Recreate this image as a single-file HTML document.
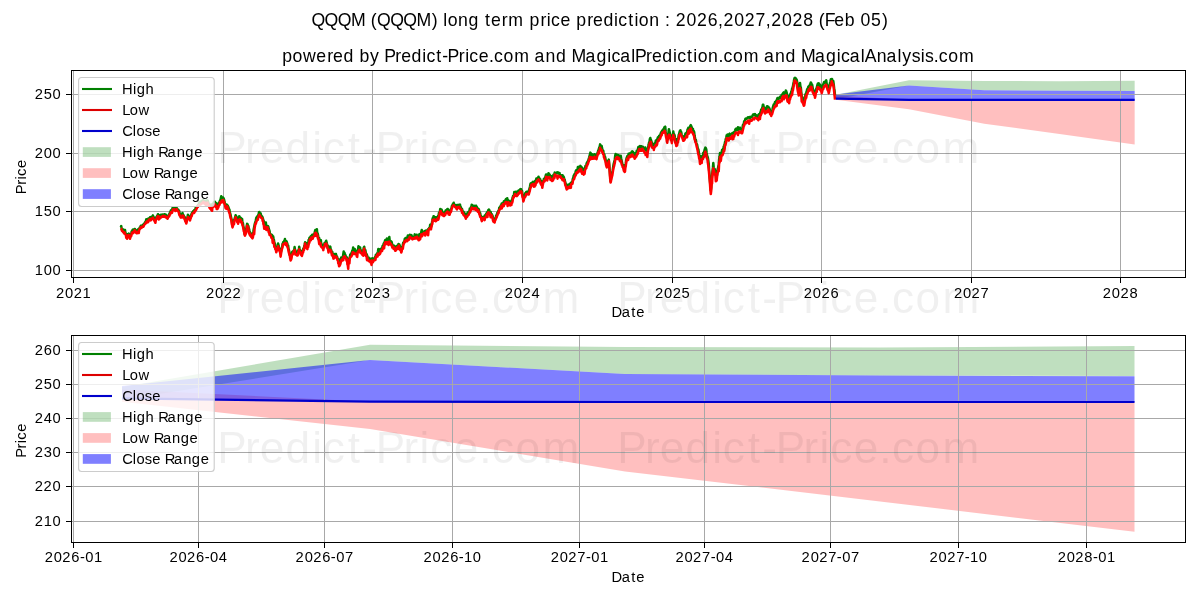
<!DOCTYPE html>
<html><head><meta charset="utf-8"><title>QQQM price prediction</title>
<style>html,body{margin:0;padding:0;background:#fff;width:1200px;height:600px;overflow:hidden}body{position:relative}</style>
</head><body>
<svg width="1200" height="600" viewBox="0 0 1200 600" style="position:absolute;left:0;top:0;will-change:transform">
<rect x="0" y="0" width="1200" height="600" fill="#fff"/>
<defs><clipPath id="ct"><rect x="72" y="71" width="1113" height="206"/></clipPath>
<clipPath id="cb"><rect x="72" y="336" width="1113" height="206"/></clipPath></defs>
<text x="311.50 324.61 337.73 350.99 365.71 370.70 377.03 390.15 403.27 416.53 431.83 437.71 443.23 447.70 458.11 468.54 478.37 484.91 490.93 501.73 508.30 523.01 529.51 540.41 546.82 551.05 560.50 570.32 576.28 587.19 593.12 603.40 614.06 618.30 628.27 634.39 638.85 649.27 659.09 665.08 669.99 675.80 686.62 697.01 707.83 718.07 723.52 734.34 744.72 755.51 765.79 771.23 782.05 792.44 803.26 813.08 818.64 824.64 834.20 844.69 854.51 860.47 871.01 882.05" y="25.80" font-family='"Liberation Sans", sans-serif' font-size="17.66" fill="#000">QQQM (QQQM) long term price prediction : 2026,2027,2028 (Feb 05)</text>
<text x="282.19 292.48 302.92 316.37 327.18 333.11 343.39 353.22 359.47 370.08 378.91 384.14 395.29 401.23 411.51 422.17 426.41 436.37 442.21 447.56 458.71 465.13 469.36 478.81 489.00 494.08 503.47 514.28 528.99 534.57 545.62 556.06 565.88 571.50 585.60 596.53 607.19 611.43 620.19 631.19 634.88 646.03 651.96 662.25 672.91 677.15 687.11 693.24 697.70 708.11 718.46 723.53 732.92 743.73 758.44 764.02 775.08 785.52 795.34 800.95 815.06 825.99 836.65 840.89 849.65 860.65 864.73 876.73 886.46 897.46 902.25 911.64 920.64 924.96 933.78 938.86 948.25 959.06" y="61.60" font-family='"Liberation Sans", sans-serif' font-size="17.66" fill="#000">powered by Predict-Price.com and MagicalPrediction.com and MagicalAnalysis.com</text>
<g clip-path="url(#ct)">
<polygon points="835.78,94.73 908.99,80.23 984.26,81.00 1059.53,81.17 1134.66,80.66 1134.66,90.95 1059.53,90.78 984.26,90.27 908.99,85.46 835.78,99.19" fill="rgba(0,128,0,0.25)"/>
<polygon points="835.78,95.59 908.99,99.78 984.26,99.88 1059.53,99.88 1134.66,99.88 1134.66,144.40 1059.53,134.04 984.26,123.74 908.99,109.15 835.78,99.78" fill="rgba(255,0,0,0.25)"/>
<polygon points="835.78,94.39 908.99,85.46 984.26,90.27 1059.53,90.78 1134.66,91.04 1134.66,99.88 1059.53,99.88 984.26,99.88 908.99,99.78 835.78,98.61" fill="rgba(0,0,255,0.5)"/>
</g>
<g shape-rendering="crispEdges">
<rect x="73" y="71" width="1" height="206" fill="#a8a8a8"/>
<rect x="223" y="71" width="1" height="206" fill="#a8a8a8"/>
<rect x="372" y="71" width="1" height="206" fill="#a8a8a8"/>
<rect x="522" y="71" width="1" height="206" fill="#a8a8a8"/>
<rect x="672" y="71" width="1" height="206" fill="#a8a8a8"/>
<rect x="821" y="71" width="1" height="206" fill="#a8a8a8"/>
<rect x="971" y="71" width="1" height="206" fill="#a8a8a8"/>
<rect x="1120" y="71" width="1" height="206" fill="#a8a8a8"/>
<rect x="72" y="270" width="1113" height="1" fill="#a8a8a8"/>
<rect x="72" y="211" width="1113" height="1" fill="#a8a8a8"/>
<rect x="72" y="153" width="1113" height="1" fill="#a8a8a8"/>
<rect x="72" y="94" width="1113" height="1" fill="#a8a8a8"/>
</g>
<g clip-path="url(#ct)">
<polyline points="120.80,227.18 121.22,226.05 121.63,228.68 122.05,229.34 122.47,229.42 122.88,230.45 123.30,229.42 123.72,230.56 124.15,231.09 124.58,231.72 125.00,229.96 125.42,232.94 125.84,233.32 126.26,234.30 126.68,234.04 127.10,235.40 127.51,234.35 127.92,235.26 128.34,234.45 128.75,233.56 129.17,235.01 129.58,236.09 130.00,237.88 130.43,235.06 130.85,234.00 131.27,232.81 131.70,231.37 132.11,231.51 132.52,230.01 132.94,229.50 133.35,230.74 133.76,230.35 134.18,230.86 134.59,228.92 135.00,229.13 135.43,230.50 135.85,230.05 136.27,231.52 136.70,232.38 137.11,230.97 137.52,230.82 137.94,229.64 138.35,230.36 138.76,228.99 139.18,229.39 139.59,227.67 140.00,227.55 140.41,227.38 140.82,225.65 141.24,226.43 141.65,225.71 142.06,225.61 142.48,225.40 142.89,225.08 143.30,225.26 143.73,223.89 144.15,223.75 144.57,223.62 145.00,222.27 145.43,222.26 145.85,221.22 146.27,219.28 146.70,220.53 147.11,220.46 147.52,220.03 147.94,220.41 148.35,218.60 148.76,219.16 149.18,218.88 149.59,218.58 150.00,217.36 150.41,218.05 150.83,217.11 151.24,217.19 151.66,217.05 152.07,217.22 152.49,215.98 152.90,215.44 153.32,216.75 153.74,217.10 154.16,218.54 154.58,218.98 155.00,219.93 155.42,219.39 155.83,218.62 156.25,217.23 156.67,216.95 157.08,215.99 157.50,215.45 157.92,214.28 158.33,215.59 158.75,216.04 159.17,215.14 159.58,215.52 160.00,216.28 160.41,216.20 160.82,214.87 161.24,216.19 161.65,215.17 162.06,214.49 162.48,214.67 162.89,214.64 163.30,214.63 163.72,214.99 164.13,214.28 164.55,214.23 164.97,215.87 165.38,215.73 165.80,214.65 166.23,215.51 166.65,216.32 167.07,217.67 167.50,217.95 167.92,216.87 168.33,215.91 168.75,215.04 169.17,214.16 169.58,213.75 170.00,212.26 170.41,212.34 170.82,210.61 171.24,210.79 171.65,210.02 172.06,210.27 172.48,208.13 172.89,208.79 173.30,208.27 173.73,208.74 174.15,208.96 174.57,207.89 175.00,208.74 175.43,208.18 175.85,208.35 176.27,207.19 176.70,208.21 177.12,208.49 177.53,209.36 177.95,209.71 178.37,209.65 178.78,211.20 179.20,211.09 179.60,213.91 180.00,213.55 180.40,215.20 180.80,216.86 181.23,215.53 181.65,215.00 182.07,214.83 182.50,212.94 182.93,214.69 183.35,214.99 183.77,215.66 184.20,216.37 184.61,216.99 185.02,218.72 185.43,219.55 185.84,221.00 186.25,221.58 186.66,219.70 187.07,218.59 187.49,217.35 187.90,214.79 188.32,215.39 188.74,216.26 189.16,217.22 189.58,218.47 190.00,217.97 190.42,217.40 190.83,216.23 191.25,214.85 191.67,213.52 192.08,212.71 192.50,212.30 192.92,211.61 193.33,211.03 193.75,212.01 194.17,210.24 194.58,209.91 195.00,210.04 195.42,209.08 195.83,207.40 196.25,206.97 196.67,207.33 197.08,206.76 197.50,205.78 197.91,205.50 198.33,204.43 198.74,204.42 199.16,203.51 199.57,201.97 199.99,203.39 200.40,202.80 200.81,201.92 201.23,202.64 201.64,200.87 202.06,202.00 202.47,201.42 202.89,200.86 203.30,200.00 203.71,200.93 204.12,201.94 204.53,202.02 204.94,201.43 205.36,202.58 205.77,201.78 206.18,200.63 206.59,202.32 207.00,200.48 207.43,200.35 207.85,200.88 208.28,202.80 208.70,203.25 209.12,205.58 209.55,204.74 209.97,206.40 210.40,204.82 210.82,206.02 211.25,206.97 211.67,204.48 212.08,206.28 212.50,204.75 212.92,203.86 213.33,203.70 213.75,202.37 214.17,202.01 214.58,202.37 215.00,201.76 215.42,203.12 215.83,203.13 216.25,203.25 216.67,204.54 217.08,207.51 217.50,207.90 217.92,206.47 218.33,203.60 218.75,204.43 219.17,202.66 219.58,201.96 220.00,200.50 220.42,200.40 220.83,198.34 221.25,196.30 221.67,197.80 222.08,197.53 222.50,198.28 222.92,197.43 223.33,197.82 223.75,198.68 224.12,199.87 224.49,201.42 224.86,203.26 225.23,204.46 225.60,204.62 226.02,206.28 226.43,204.45 226.85,206.24 227.27,205.02 227.68,205.79 228.10,206.40 228.53,207.54 228.97,209.14 229.40,209.32 229.79,212.17 230.18,213.29 230.56,214.71 230.95,216.67 231.34,218.54 231.72,220.57 232.11,222.92 232.50,225.49 232.89,224.88 233.28,224.17 233.66,221.62 234.05,220.06 234.44,219.52 234.82,218.14 235.21,216.90 235.60,215.20 236.02,215.96 236.43,217.26 236.85,217.80 237.27,218.92 237.68,220.29 238.10,219.99 238.53,217.69 238.97,216.46 239.40,216.24 239.79,218.46 240.18,217.43 240.56,217.70 240.95,218.89 241.34,218.89 241.72,220.10 242.11,218.85 242.50,223.25 242.92,223.06 243.33,226.42 243.75,227.88 244.17,229.58 244.58,233.85 245.00,234.61 245.42,233.37 245.83,230.17 246.25,229.52 246.67,226.54 247.08,223.82 247.50,224.02 247.92,225.58 248.33,225.98 248.75,228.21 249.17,229.18 249.58,232.51 250.00,232.14 250.42,233.84 250.83,233.43 251.25,234.74 251.67,235.33 252.08,235.23 252.50,234.81 252.92,233.06 253.33,231.78 253.75,228.93 254.17,227.14 254.58,224.83 255.00,223.13 255.42,221.75 255.83,220.32 256.25,217.88 256.64,218.49 257.04,216.55 257.43,217.45 257.82,216.54 258.22,214.91 258.61,214.42 259.01,212.09 259.40,211.97 259.82,214.18 260.23,214.55 260.65,213.46 261.07,215.27 261.48,217.35 261.90,216.15 262.29,216.65 262.67,217.80 263.06,219.14 263.45,220.65 263.84,221.26 264.23,223.67 264.61,223.33 265.00,224.59 265.42,224.07 265.83,222.42 266.25,225.96 266.67,225.80 267.08,226.64 267.50,226.12 267.92,226.07 268.33,226.65 268.75,228.71 269.17,229.97 269.58,231.12 270.00,234.06 270.39,234.26 270.77,234.91 271.16,234.53 271.55,235.34 271.94,234.91 272.33,235.70 272.71,236.59 273.10,236.29 273.49,238.25 273.89,239.78 274.28,242.34 274.68,243.23 275.07,244.78 275.46,248.24 275.86,249.42 276.25,248.05 276.62,248.88 276.99,246.84 277.36,247.06 277.73,245.54 278.10,243.55 278.52,245.00 278.93,247.08 279.35,249.27 279.77,249.63 280.18,250.50 280.60,252.48 280.99,252.11 281.39,250.00 281.78,248.13 282.18,246.93 282.57,243.72 282.96,243.20 283.36,241.93 283.75,242.17 284.14,241.09 284.54,240.78 284.93,239.07 285.32,241.11 285.72,242.58 286.11,241.58 286.51,241.38 286.90,242.18 287.31,243.97 287.72,245.04 288.13,245.51 288.54,248.86 288.96,250.19 289.37,252.08 289.78,254.93 290.19,255.80 290.60,257.16 291.03,257.23 291.45,256.44 291.88,253.82 292.30,251.78 292.68,251.55 293.07,252.19 293.45,250.82 293.83,250.76 294.22,250.12 294.60,247.10 294.98,249.41 295.37,250.89 295.75,251.25 296.13,252.11 296.52,254.61 296.90,253.56 297.28,254.23 297.67,251.85 298.05,250.84 298.43,250.00 298.82,250.53 299.20,246.65 299.59,248.84 299.97,250.28 300.36,251.05 300.74,250.82 301.13,251.24 301.51,252.61 301.90,251.67 302.30,252.20 302.70,251.29 303.10,249.20 303.50,248.34 303.90,248.44 304.30,246.07 304.70,244.45 305.10,242.25 305.48,242.51 305.87,243.90 306.25,244.59 306.63,246.09 307.02,243.27 307.40,246.52 307.80,244.71 308.20,244.56 308.60,239.93 309.00,240.83 309.40,237.96 309.80,237.43 310.20,237.07 310.59,236.66 310.97,236.07 311.36,236.96 311.74,235.64 312.13,234.92 312.51,236.54 312.90,235.87 313.30,234.60 313.70,234.31 314.10,234.96 314.50,233.89 314.90,231.55 315.30,230.03 315.70,230.24 316.09,230.02 316.47,232.54 316.86,229.15 317.24,233.64 317.63,233.33 318.01,234.92 318.40,237.65 318.81,239.34 319.22,238.08 319.63,240.79 320.04,240.38 320.45,241.01 320.86,240.21 321.27,244.84 321.68,244.15 322.09,246.35 322.50,245.40 322.91,246.39 323.32,246.29 323.73,244.90 324.14,244.80 324.56,242.95 324.97,242.70 325.38,243.19 325.79,241.76 326.20,240.70 326.58,242.23 326.97,243.81 327.35,245.13 327.73,248.13 328.12,245.91 328.50,249.11 328.95,248.60 329.40,248.15 329.85,247.54 330.30,246.53 330.70,249.81 331.10,249.74 331.50,252.00 331.90,252.92 332.30,251.96 332.70,253.93 333.10,256.02 333.50,257.11 333.90,255.76 334.30,255.39 334.70,254.18 335.10,253.96 335.50,254.80 335.90,253.98 336.30,255.42 336.70,256.08 337.10,256.89 337.50,258.66 337.90,258.88 338.30,258.94 338.70,261.54 339.10,262.99 339.50,264.08 339.95,264.43 340.40,261.66 340.85,258.71 341.30,257.47 341.70,257.31 342.10,258.85 342.50,257.63 342.90,257.22 343.30,253.88 343.70,251.53 344.10,254.97 344.50,252.75 344.91,254.45 345.32,254.75 345.73,256.11 346.14,256.84 346.56,257.17 346.97,257.62 347.38,259.96 347.79,261.39 348.20,262.06 348.61,260.28 349.02,260.31 349.43,258.68 349.84,257.27 350.25,254.60 350.66,254.20 351.07,254.72 351.48,252.89 351.89,252.36 352.30,250.56 352.71,252.05 353.12,247.59 353.53,250.26 353.94,251.77 354.36,250.32 354.77,248.96 355.18,252.08 355.59,252.48 356.00,252.69 356.41,253.48 356.82,251.12 357.23,251.53 357.64,251.43 358.06,249.35 358.47,246.23 358.88,248.57 359.29,249.54 359.70,249.05 360.09,247.45 360.47,250.68 360.86,251.20 361.24,250.94 361.63,250.70 362.01,252.49 362.40,253.41 362.85,250.89 363.30,251.60 363.75,247.57 364.20,246.72 364.60,250.04 365.00,249.77 365.40,250.33 365.80,252.88 366.20,253.74 366.60,254.11 367.00,255.18 367.41,256.42 367.82,257.55 368.23,258.16 368.64,257.59 369.06,258.71 369.47,258.82 369.88,259.66 370.29,258.73 370.70,259.80 371.09,259.33 371.47,259.93 371.86,260.43 372.24,258.25 372.63,259.77 373.01,258.71 373.40,260.58 373.81,258.67 374.22,258.82 374.63,258.18 375.04,257.09 375.46,257.00 375.87,254.67 376.28,255.37 376.69,254.98 377.10,254.32 377.52,252.67 377.94,251.80 378.35,249.05 378.77,251.57 379.19,251.78 379.61,250.99 380.03,251.25 380.45,248.89 380.86,250.68 381.28,248.52 381.70,249.64 382.10,248.83 382.50,246.12 382.90,245.68 383.30,245.54 383.70,243.57 384.10,243.33 384.50,242.25 384.90,241.02 385.30,240.00 385.70,240.07 386.10,240.41 386.50,240.26 386.90,238.57 387.30,239.97 387.70,239.24 388.10,241.58 388.50,240.46 388.90,238.76 389.30,236.97 389.74,240.94 390.18,241.11 390.62,241.28 391.06,242.15 391.50,241.64 391.93,243.28 392.36,244.99 392.79,246.20 393.22,245.82 393.65,247.06 394.08,245.61 394.51,246.05 394.94,246.38 395.37,247.76 395.80,247.44 396.19,246.79 396.57,247.36 396.96,246.10 397.34,246.65 397.73,245.16 398.11,246.93 398.50,244.00 398.89,245.28 399.29,244.44 399.68,245.49 400.07,247.33 400.46,247.13 400.86,248.57 401.25,250.52 401.64,249.52 402.04,248.60 402.43,246.97 402.82,244.97 403.21,242.75 403.61,242.66 404.00,241.77 404.39,241.33 404.77,238.83 405.16,238.45 405.54,239.09 405.93,239.08 406.31,237.74 406.70,239.59 407.09,238.79 407.47,238.38 407.86,235.45 408.24,237.49 408.63,237.91 409.01,236.11 409.40,235.99 409.82,234.71 410.24,235.57 410.67,235.76 411.09,235.71 411.51,235.15 411.93,236.55 412.36,237.12 412.78,237.46 413.20,237.65 413.59,237.25 413.97,237.01 414.36,236.16 414.74,234.39 415.13,235.58 415.51,236.57 415.90,235.88 416.29,235.77 416.67,234.68 417.06,236.38 417.44,235.66 417.83,235.97 418.21,236.98 418.60,237.47 418.99,238.82 419.37,234.22 419.76,235.75 420.14,234.76 420.53,234.00 420.91,233.60 421.30,231.68 421.73,229.93 422.16,233.54 422.59,232.35 423.02,233.15 423.45,233.07 423.88,231.44 424.31,231.47 424.74,230.93 425.17,231.05 425.60,230.84 426.02,230.50 426.44,231.29 426.87,230.60 427.29,231.03 427.71,229.88 428.13,229.18 428.56,229.15 428.98,228.36 429.40,227.85 429.80,227.50 430.20,224.65 430.60,227.60 431.00,227.10 431.43,225.64 431.85,223.24 432.27,220.99 432.70,218.15 433.10,218.44 433.50,216.37 433.90,216.34 434.30,217.19 434.70,219.01 435.10,218.95 435.50,217.31 435.90,218.15 436.34,217.69 436.78,217.42 437.22,217.03 437.66,217.28 438.10,215.91 438.53,216.03 438.96,212.96 439.39,212.62 439.82,211.89 440.25,209.03 440.67,209.68 441.08,209.53 441.50,209.56 441.92,210.49 442.33,211.78 442.75,212.34 443.17,213.68 443.58,213.00 444.00,214.76 444.42,213.50 444.84,213.15 445.27,211.99 445.69,210.38 446.11,210.29 446.53,210.08 446.96,210.12 447.38,208.96 447.80,209.06 448.24,210.50 448.68,211.03 449.12,210.32 449.56,212.03 450.00,211.00 450.41,210.74 450.81,209.32 451.22,208.49 451.62,207.33 452.03,205.51 452.44,205.93 452.84,204.17 453.25,203.71 453.68,202.76 454.11,204.19 454.54,204.62 454.97,205.11 455.40,205.21 455.81,205.99 456.22,205.36 456.64,206.71 457.05,204.97 457.46,205.55 457.88,205.40 458.29,204.92 458.70,205.28 459.12,205.14 459.54,205.43 459.96,204.62 460.38,206.65 460.80,207.14 461.22,208.50 461.64,208.51 462.06,208.98 462.48,211.39 462.90,211.29 463.32,211.53 463.73,212.34 464.15,212.61 464.57,214.89 464.99,215.63 465.41,213.89 465.83,214.80 466.25,214.27 466.64,213.80 467.04,214.53 467.43,213.93 467.82,212.39 468.21,213.40 468.61,211.69 469.00,212.30 469.39,211.49 469.77,208.61 470.16,209.50 470.54,208.69 470.93,207.23 471.31,207.10 471.70,204.67 472.13,206.81 472.56,206.39 472.99,205.65 473.42,206.57 473.85,205.99 474.28,205.87 474.71,206.87 475.14,206.67 475.57,206.02 476.00,205.69 476.44,206.51 476.88,207.05 477.32,209.08 477.76,209.46 478.20,208.64 478.60,208.96 479.00,209.98 479.40,212.47 479.80,212.55 480.20,213.12 480.60,216.00 481.00,215.93 481.40,217.10 481.83,217.63 482.27,218.18 482.70,217.21 483.09,217.20 483.47,216.75 483.86,216.76 484.24,217.06 484.63,215.83 485.01,215.20 485.40,215.75 485.81,214.71 486.22,213.70 486.64,213.12 487.05,212.31 487.46,212.99 487.88,211.29 488.29,210.10 488.70,210.78 489.09,209.57 489.47,210.79 489.86,212.62 490.24,212.97 490.63,211.88 491.01,214.06 491.40,213.93 491.80,214.24 492.20,215.36 492.60,215.91 493.00,218.10 493.40,219.28 493.80,219.11 494.20,220.04 494.60,221.42 494.99,218.93 495.37,218.06 495.76,217.85 496.14,215.49 496.53,216.42 496.91,214.36 497.30,212.81 497.70,212.44 498.10,211.45 498.50,210.62 498.90,210.51 499.30,207.76 499.70,207.42 500.10,207.20 500.50,206.23 500.90,205.40 501.30,205.19 501.70,203.57 502.13,204.36 502.56,203.59 502.99,203.12 503.42,203.02 503.85,201.37 504.28,200.99 504.71,202.42 505.14,200.45 505.57,199.95 506.00,198.97 506.41,200.65 506.81,200.75 507.22,198.27 507.62,200.86 508.03,200.17 508.44,200.57 508.84,201.92 509.25,200.80 509.68,201.88 510.11,203.57 510.54,202.04 510.97,202.20 511.40,202.79 511.81,200.11 512.23,199.27 512.64,197.98 513.05,196.02 513.46,196.01 513.88,195.53 514.29,191.91 514.70,192.35 515.13,192.49 515.56,191.80 515.99,192.22 516.42,191.90 516.85,193.51 517.28,192.98 517.71,191.38 518.14,192.02 518.57,190.49 519.00,190.89 519.44,190.73 519.88,189.77 520.32,189.16 520.76,189.42 521.20,189.33 521.62,191.34 522.04,190.88 522.46,194.16 522.88,195.10 523.30,197.19 523.71,196.76 524.12,195.83 524.54,196.75 524.95,194.78 525.36,193.02 525.77,193.45 526.19,192.02 526.60,191.76 527.03,191.91 527.46,191.74 527.89,192.43 528.32,191.99 528.75,191.78 529.18,189.35 529.61,188.29 530.04,186.23 530.47,183.91 530.90,183.20 531.31,183.43 531.73,183.34 532.14,182.48 532.55,182.56 532.96,181.89 533.38,184.26 533.79,184.14 534.20,185.49 534.63,183.59 535.06,181.03 535.49,180.51 535.92,180.67 536.35,178.53 536.78,179.47 537.21,178.41 537.64,178.70 538.07,178.10 538.50,176.68 538.92,178.01 539.34,178.18 539.77,179.00 540.19,179.17 540.61,181.18 541.03,181.03 541.46,182.58 541.88,182.35 542.30,181.79 542.72,181.62 543.14,181.42 543.57,180.14 543.99,178.67 544.41,179.06 544.83,178.53 545.26,177.54 545.68,175.73 546.10,174.51 546.50,174.45 546.90,176.12 547.30,175.65 547.70,174.78 548.10,175.70 548.50,173.17 548.90,173.96 549.30,174.12 549.71,175.19 550.12,175.29 550.54,176.02 550.95,175.90 551.36,176.31 551.77,178.16 552.19,177.70 552.60,178.16 553.03,177.57 553.46,174.91 553.89,174.65 554.32,174.30 554.75,172.62 555.15,173.08 555.54,173.54 555.94,172.99 556.33,173.28 556.73,172.63 557.12,172.48 557.52,172.97 557.91,172.35 558.31,173.59 558.70,173.13 559.10,172.89 559.53,172.95 559.96,175.45 560.39,174.89 560.82,175.30 561.25,176.13 561.68,175.67 562.11,177.39 562.54,175.33 562.97,177.47 563.40,176.44 563.81,177.11 564.23,179.09 564.64,179.53 565.05,181.63 565.46,182.82 565.88,184.42 566.29,186.63 566.70,186.54 567.12,186.41 567.53,185.90 567.95,184.67 568.36,185.60 568.78,184.84 569.19,185.33 569.61,184.03 570.02,183.77 570.44,183.53 570.85,182.82 571.27,183.11 571.68,182.98 572.10,182.12 572.50,180.45 572.90,178.50 573.30,177.69 573.70,175.67 574.10,175.48 574.50,174.26 574.90,174.11 575.30,173.78 575.73,171.24 576.17,170.28 576.60,170.01 577.03,170.83 577.47,169.99 577.90,167.05 578.31,169.09 578.73,168.49 579.14,166.80 579.56,167.21 579.97,167.36 580.39,165.89 580.80,166.53 581.22,166.85 581.64,168.72 582.06,167.66 582.49,168.46 582.91,169.96 583.33,170.64 583.75,171.65 584.17,170.70 584.59,170.78 585.01,168.46 585.44,166.09 585.86,165.78 586.28,164.62 586.70,163.27 587.11,162.37 587.51,162.92 587.92,161.11 588.32,160.34 588.73,158.95 589.13,157.59 589.53,155.97 589.94,154.66 590.35,152.64 590.75,153.25 591.17,154.93 591.59,156.29 592.01,154.63 592.44,154.36 592.86,154.70 593.28,156.18 593.70,156.42 594.11,155.60 594.53,154.23 594.94,155.54 595.36,154.66 595.77,156.47 596.19,156.36 596.60,155.48 596.99,154.94 597.38,153.02 597.77,152.61 598.16,150.64 598.54,150.38 598.93,148.62 599.32,147.45 599.71,146.53 600.10,144.37 600.48,147.27 600.87,146.23 601.25,146.29 601.63,145.88 602.02,148.14 602.40,149.49 602.79,150.21 603.18,150.56 603.58,152.83 603.97,153.86 604.36,154.53 604.75,157.59 605.19,157.18 605.62,159.74 606.06,162.12 606.50,165.46 606.88,163.71 607.27,163.43 607.65,162.67 608.03,160.80 608.42,160.43 608.80,159.59 609.25,164.29 609.70,170.26 610.15,176.05 610.60,181.45 611.02,178.76 611.45,176.57 611.88,173.16 612.30,172.30 612.72,170.43 613.14,167.14 613.56,164.41 613.99,162.97 614.41,161.43 614.83,159.25 615.25,155.46 615.64,153.90 616.03,154.60 616.42,154.94 616.82,155.14 617.21,155.58 617.60,154.91 617.99,155.10 618.38,155.13 618.77,155.38 619.16,156.05 619.54,157.43 619.93,157.88 620.32,158.67 620.71,155.72 621.10,158.24 621.49,160.08 621.88,162.16 622.27,163.64 622.66,165.00 623.04,165.58 623.43,166.71 623.82,167.87 624.21,165.23 624.60,168.35 625.00,166.52 625.40,165.34 625.80,163.50 626.20,159.98 626.60,158.02 627.00,156.98 627.40,156.04 627.80,155.93 628.20,156.85 628.60,153.78 629.00,155.49 629.40,153.61 629.80,153.61 630.20,153.47 630.60,152.81 631.00,152.91 631.40,153.18 631.80,152.10 632.20,151.40 632.61,152.74 633.03,151.87 633.44,153.16 633.86,154.24 634.27,155.11 634.69,156.32 635.10,153.14 635.51,155.60 635.92,153.84 636.33,152.69 636.74,150.81 637.15,151.94 637.56,150.17 637.97,149.20 638.38,146.98 638.79,148.40 639.20,147.00 639.61,146.63 640.02,145.96 640.43,147.50 640.84,146.65 641.25,146.33 641.66,147.50 642.07,146.61 642.48,146.91 642.89,146.74 643.30,147.80 643.70,147.67 644.10,148.18 644.50,148.84 644.90,149.79 645.30,147.45 645.70,149.58 646.10,150.28 646.50,151.22 646.90,151.38 647.30,151.99 647.73,150.56 648.16,147.14 648.59,145.12 649.01,142.59 649.44,142.77 649.87,139.06 650.30,137.98 650.68,139.54 651.07,140.15 651.45,141.34 651.83,143.05 652.22,145.45 652.60,145.72 653.01,145.71 653.42,144.05 653.83,144.87 654.24,144.57 654.65,144.44 655.06,143.13 655.47,142.70 655.88,140.41 656.29,142.28 656.70,140.79 657.12,139.97 657.55,138.37 657.97,137.23 658.39,137.74 658.81,137.31 659.24,135.66 659.66,136.21 660.08,136.12 660.50,134.17 660.93,132.89 661.35,132.04 661.74,132.35 662.13,130.46 662.52,130.50 662.91,130.56 663.29,129.23 663.68,129.62 664.07,128.26 664.46,127.29 664.85,127.17 665.24,126.65 665.63,131.23 666.03,133.06 666.42,136.46 666.81,138.27 667.20,138.71 667.62,136.33 668.05,134.67 668.48,132.68 668.90,129.17 669.32,130.79 669.74,132.64 670.16,134.46 670.59,134.99 671.01,136.83 671.43,138.53 671.85,139.15 672.21,136.23 672.58,136.23 672.94,134.74 673.30,131.59 673.72,134.47 674.15,134.38 674.58,135.23 675.00,137.75 675.42,139.09 675.85,141.57 676.28,142.01 676.70,143.94 677.11,141.70 677.53,139.00 677.94,138.86 678.35,137.96 678.76,134.72 679.17,133.85 679.59,131.88 680.00,130.76 680.41,130.22 680.83,131.85 681.24,132.09 681.65,134.47 682.06,135.95 682.47,136.01 682.89,137.12 683.30,137.60 683.72,137.46 684.15,136.77 684.58,136.70 685.00,135.48 685.42,133.63 685.85,133.81 686.28,132.85 686.70,133.28 687.11,132.92 687.52,129.55 687.93,129.45 688.34,127.85 688.75,129.05 689.16,127.66 689.57,128.11 689.98,126.63 690.39,125.58 690.80,125.16 691.22,126.09 691.63,127.37 692.05,128.28 692.47,129.10 692.88,128.78 693.30,131.46 693.72,130.94 694.15,131.99 694.58,135.87 695.00,137.70 695.42,139.98 695.85,140.06 696.28,142.77 696.70,144.13 697.11,144.60 697.53,146.97 697.94,149.36 698.35,149.25 698.76,151.86 699.17,154.73 699.59,155.97 700.00,158.20 700.42,156.32 700.83,158.52 701.25,157.22 701.67,156.54 702.08,156.73 702.50,156.05 702.91,155.77 703.33,152.79 703.74,152.90 704.15,152.25 704.56,150.03 704.97,149.11 705.39,147.65 705.80,148.10 706.22,149.16 706.63,152.71 707.05,155.52 707.47,156.49 707.88,157.76 708.30,160.43 708.72,163.62 709.13,170.51 709.55,175.38 709.97,180.90 710.38,185.31 710.80,190.30 711.22,187.54 711.63,179.02 712.05,176.27 712.47,171.12 712.88,167.96 713.30,163.06 713.72,167.43 714.15,169.22 714.58,168.87 715.00,170.62 715.42,172.99 715.85,174.81 716.28,173.86 716.70,176.76 717.11,174.77 717.53,169.87 717.94,168.39 718.35,166.25 718.76,164.99 719.17,158.86 719.59,156.60 720.00,153.07 720.41,154.74 720.83,152.69 721.24,153.89 721.65,153.41 722.06,149.90 722.47,151.67 722.89,148.99 723.30,149.64 723.72,146.53 724.15,146.79 724.58,144.60 725.00,142.13 725.42,140.76 725.85,138.83 726.28,137.56 726.70,135.34 727.11,135.59 727.53,134.55 727.94,135.98 728.35,136.52 728.76,134.17 729.17,134.21 729.59,133.68 730.00,135.67 730.41,134.46 730.83,135.07 731.24,134.38 731.65,135.27 732.06,133.39 732.47,133.05 732.89,133.88 733.30,132.88 733.72,133.27 734.15,132.01 734.58,131.98 735.00,130.87 735.42,129.33 735.85,130.60 736.28,128.62 736.70,129.66 737.12,129.08 737.53,129.99 737.95,127.33 738.37,130.02 738.78,129.50 739.20,129.39 739.62,128.18 740.03,127.63 740.45,128.67 740.87,129.31 741.28,129.31 741.70,130.73 742.11,130.01 742.53,127.68 742.94,125.06 743.35,124.23 743.76,124.55 744.17,121.25 744.59,121.11 745.00,120.19 745.42,118.82 745.83,118.55 746.25,119.03 746.67,118.79 747.08,118.43 747.50,117.82 747.92,117.26 748.33,117.29 748.75,117.49 749.17,117.82 749.58,116.94 750.00,117.00 750.42,117.75 750.83,116.82 751.25,116.87 751.67,117.16 752.08,116.94 752.50,115.73 752.92,114.91 753.33,114.44 753.75,115.00 754.17,114.53 754.58,114.71 755.00,113.99 755.41,115.77 755.83,115.68 756.24,115.33 756.65,116.37 757.06,115.73 757.47,115.48 757.89,115.59 758.30,117.60 758.72,114.44 759.13,114.23 759.55,114.95 759.97,114.24 760.38,112.18 760.80,111.57 761.22,109.58 761.63,109.55 762.05,108.46 762.47,107.15 762.88,104.80 763.30,104.70 763.72,107.70 764.15,107.42 764.58,108.90 765.00,109.89 765.42,109.98 765.83,109.95 766.25,108.94 766.67,107.47 767.08,106.24 767.50,106.18 767.92,106.78 768.35,106.66 768.78,108.06 769.20,108.00 769.61,109.02 770.02,110.11 770.43,111.84 770.84,112.09 771.25,112.66 771.67,110.79 772.09,110.94 772.51,109.19 772.94,107.03 773.36,105.77 773.78,104.52 774.20,104.37 774.61,103.80 775.03,101.93 775.44,102.38 775.85,101.76 776.26,100.91 776.67,100.44 777.09,99.08 777.50,98.01 777.91,98.75 778.33,99.16 778.74,98.90 779.16,98.24 779.57,97.46 779.99,96.70 780.40,97.26 780.81,97.93 781.23,97.52 781.64,94.84 782.06,94.47 782.47,94.41 782.89,93.62 783.30,92.79 783.72,92.38 784.14,93.99 784.56,93.76 784.99,93.21 785.41,92.97 785.83,90.53 786.25,91.25 786.66,92.59 787.08,94.47 787.49,96.77 787.90,99.68 788.32,97.44 788.74,96.40 789.17,97.58 789.59,96.04 790.01,95.45 790.43,93.82 790.86,93.81 791.28,91.51 791.70,91.43 792.11,88.44 792.53,87.57 792.94,86.53 793.36,83.77 793.77,81.79 794.19,79.44 794.60,78.05 795.02,77.74 795.44,78.68 795.86,78.37 796.28,79.22 796.70,79.75 797.11,81.75 797.52,83.95 797.93,86.63 798.34,90.77 798.75,92.62 799.17,90.05 799.58,86.81 800.00,83.00 800.42,86.60 800.85,87.51 801.28,92.35 801.70,95.82 802.12,96.95 802.53,97.37 802.95,98.55 803.37,101.14 803.78,101.97 804.20,102.04 804.60,100.48 805.00,98.60 805.40,94.59 805.80,93.67 806.22,93.22 806.63,91.66 807.05,89.64 807.47,88.78 807.88,88.51 808.30,86.82 808.72,86.32 809.13,86.06 809.55,86.50 809.97,84.54 810.38,84.18 810.80,82.40 811.22,83.13 811.64,84.80 812.06,84.59 812.48,86.60 812.90,89.09 813.32,90.55 813.74,91.37 814.16,90.72 814.58,91.82 815.00,93.02 815.42,92.25 815.83,90.24 816.25,88.87 816.67,88.13 817.08,86.33 817.50,84.62 817.92,83.42 818.33,83.43 818.75,83.32 819.17,83.73 819.58,85.88 820.00,85.46 820.42,84.90 820.85,87.14 821.28,86.10 821.70,88.46 822.11,86.81 822.52,87.71 822.93,86.06 823.34,83.98 823.75,83.20 824.16,81.97 824.57,83.01 824.98,82.20 825.39,82.36 825.80,80.88 826.22,80.27 826.64,83.61 827.06,84.70 827.49,86.23 827.91,87.09 828.33,88.20 828.75,89.12 829.17,87.81 829.59,85.44 830.01,83.05 830.44,81.31 830.86,79.27 831.28,79.85 831.70,79.00 832.10,79.18 832.50,80.19 832.90,81.12 833.30,81.11 833.72,84.47 834.15,88.21 834.58,91.04 835.00,95.47" fill="none" stroke="#008000" stroke-width="2.50" stroke-linejoin="round"/>
<polyline points="120.80,228.35 121.22,228.58 121.63,229.95 122.05,230.89 122.47,230.96 122.88,231.74 123.30,232.38 123.72,232.04 124.15,233.39 124.58,232.45 125.00,233.44 125.42,234.57 125.84,234.82 126.26,237.87 126.68,236.24 127.10,238.80 127.51,236.82 127.92,236.22 128.34,235.01 128.75,235.07 129.17,236.89 129.58,236.97 130.00,238.74 130.43,236.48 130.85,235.88 131.27,235.95 131.70,233.65 132.11,232.55 132.52,232.62 132.94,233.13 133.35,232.88 133.76,231.46 134.18,232.23 134.59,230.17 135.00,230.88 135.43,231.28 135.85,232.44 136.27,232.96 136.70,233.33 137.11,233.26 137.52,232.04 137.94,232.01 138.35,231.33 138.76,233.06 139.18,230.13 139.59,229.15 140.00,228.67 140.41,228.41 140.82,227.17 141.24,227.88 141.65,226.72 142.06,227.41 142.48,226.75 142.89,226.55 143.30,226.80 143.73,226.16 144.15,224.84 144.57,224.53 145.00,223.93 145.43,223.88 145.85,222.50 146.27,222.11 146.70,222.56 147.11,221.39 147.52,222.42 147.94,222.12 148.35,221.83 148.76,219.67 149.18,220.08 149.59,219.67 150.00,220.12 150.41,218.91 150.83,220.36 151.24,219.23 151.66,218.47 152.07,218.48 152.49,218.97 152.90,217.79 153.32,218.58 153.74,219.72 154.16,220.27 154.58,221.19 155.00,222.01 155.42,222.78 155.83,219.87 156.25,219.33 156.67,218.43 157.08,217.22 157.50,216.89 157.92,216.17 158.33,217.36 158.75,219.49 159.17,216.76 159.58,217.73 160.00,218.38 160.41,217.22 160.82,217.06 161.24,217.33 161.65,216.46 162.06,216.92 162.48,216.22 162.89,216.73 163.30,215.90 163.72,216.67 164.13,216.79 164.55,216.01 164.97,216.85 165.38,216.63 165.80,217.32 166.23,217.05 166.65,217.97 167.07,218.16 167.50,218.67 167.92,217.74 168.33,216.68 168.75,216.16 169.17,216.42 169.58,214.94 170.00,214.72 170.41,213.71 170.82,212.34 171.24,212.08 171.65,212.24 172.06,212.71 172.48,210.84 172.89,209.52 173.30,209.90 173.73,209.50 174.15,209.64 174.57,209.39 175.00,210.43 175.43,211.05 175.85,210.63 176.27,209.87 176.70,209.09 177.12,209.98 177.53,210.78 177.95,211.30 178.37,211.21 178.78,212.51 179.20,214.48 179.60,215.61 180.00,215.69 180.40,216.36 180.80,217.53 181.23,217.25 181.65,216.61 182.07,217.57 182.50,215.44 182.93,216.40 183.35,215.71 183.77,217.51 184.20,217.87 184.61,219.45 185.02,220.15 185.43,221.72 185.84,221.68 186.25,223.57 186.66,222.08 187.07,220.40 187.49,218.95 187.90,216.97 188.32,217.42 188.74,218.10 189.16,218.61 189.58,219.09 190.00,220.50 190.42,218.86 190.83,217.98 191.25,216.32 191.67,216.28 192.08,214.64 192.50,213.55 192.92,213.40 193.33,212.80 193.75,212.82 194.17,212.92 194.58,211.26 195.00,211.68 195.42,210.64 195.83,210.15 196.25,209.63 196.67,208.63 197.08,207.69 197.50,206.93 197.91,206.85 198.33,206.12 198.74,205.76 199.16,205.51 199.57,204.90 199.99,204.72 200.40,204.49 200.81,204.51 201.23,204.01 201.64,203.34 202.06,203.31 202.47,203.02 202.89,203.28 203.30,201.81 203.71,202.38 204.12,202.70 204.53,203.57 204.94,202.59 205.36,204.57 205.77,203.87 206.18,205.04 206.59,203.59 207.00,203.52 207.43,202.46 207.85,203.83 208.28,204.90 208.70,205.57 209.12,206.78 209.55,207.64 209.97,208.63 210.40,207.45 210.82,208.53 211.25,210.03 211.67,209.66 212.08,210.80 212.50,206.70 212.92,207.07 213.33,205.94 213.75,204.59 214.17,205.55 214.58,203.94 215.00,204.71 215.42,206.68 215.83,205.95 216.25,205.84 216.67,209.00 217.08,208.95 217.50,208.94 217.92,207.50 218.33,207.59 218.75,205.57 219.17,204.98 219.58,204.93 220.00,202.23 220.42,203.02 220.83,202.42 221.25,202.52 221.67,200.59 222.08,201.60 222.50,200.92 222.92,201.73 223.33,199.92 223.75,203.18 224.12,201.86 224.49,203.27 224.86,204.51 225.23,206.47 225.60,208.29 226.02,207.66 226.43,208.88 226.85,207.56 227.27,206.40 227.68,207.93 228.10,208.74 228.53,210.07 228.97,211.75 229.40,213.10 229.79,213.96 230.18,216.17 230.56,218.05 230.95,218.69 231.34,220.26 231.72,223.88 232.11,225.21 232.50,227.40 232.89,226.08 233.28,225.07 233.66,223.93 234.05,223.99 234.44,220.56 234.82,219.99 235.21,219.12 235.60,217.17 236.02,218.54 236.43,219.25 236.85,220.71 237.27,222.05 237.68,221.30 238.10,223.71 238.53,221.65 238.97,219.95 239.40,219.40 239.79,220.78 240.18,219.57 240.56,219.83 240.95,222.18 241.34,222.57 241.72,221.93 242.11,223.39 242.50,225.52 242.92,226.14 243.33,228.25 243.75,231.10 244.17,232.15 244.58,234.79 245.00,235.73 245.42,234.25 245.83,233.53 246.25,231.53 246.67,229.09 247.08,225.65 247.50,226.28 247.92,226.96 248.33,227.57 248.75,232.10 249.17,233.54 249.58,232.95 250.00,235.60 250.42,234.34 250.83,235.33 251.25,236.95 251.67,236.66 252.08,237.84 252.50,238.30 252.92,237.36 253.33,233.76 253.75,232.44 254.17,234.22 254.58,228.32 255.00,226.12 255.42,223.52 255.83,223.80 256.25,222.16 256.64,221.14 257.04,220.05 257.43,219.43 257.82,219.70 258.22,217.77 258.61,216.86 259.01,215.77 259.40,214.88 259.82,215.97 260.23,216.16 260.65,217.00 261.07,217.51 261.48,218.20 261.90,218.36 262.29,218.31 262.67,221.08 263.06,221.10 263.45,224.30 263.84,225.13 264.23,228.80 264.61,226.92 265.00,226.60 265.42,226.74 265.83,227.11 266.25,229.83 266.67,229.92 267.08,229.11 267.50,227.30 267.92,229.05 268.33,229.42 268.75,232.50 269.17,232.66 269.58,235.03 270.00,234.85 270.39,235.03 270.77,235.47 271.16,236.89 271.55,238.06 271.94,238.08 272.33,238.90 272.71,242.93 273.10,240.24 273.49,242.33 273.89,242.22 274.28,246.81 274.68,247.02 275.07,248.00 275.46,249.47 275.86,249.68 276.25,252.25 276.62,251.22 276.99,248.84 277.36,249.00 277.73,247.72 278.10,246.21 278.52,247.10 278.93,249.43 279.35,251.03 279.77,251.15 280.18,252.83 280.60,256.67 280.99,254.08 281.39,251.31 281.78,249.62 282.18,248.42 282.57,246.73 282.96,244.51 283.36,244.02 283.75,243.98 284.14,244.06 284.54,243.43 284.93,243.87 285.32,242.90 285.72,245.01 286.11,243.18 286.51,243.43 286.90,244.70 287.31,246.67 287.72,247.55 288.13,248.71 288.54,251.38 288.96,253.03 289.37,254.65 289.78,255.54 290.19,258.57 290.60,260.53 291.03,259.68 291.45,258.65 291.88,255.68 292.30,254.23 292.68,254.66 293.07,253.54 293.45,252.46 293.83,250.99 294.22,251.37 294.60,249.99 294.98,252.31 295.37,254.46 295.75,254.11 296.13,254.32 296.52,254.77 296.90,255.47 297.28,254.64 297.67,255.44 298.05,253.61 298.43,251.46 298.82,251.11 299.20,249.36 299.59,251.37 299.97,251.89 300.36,251.78 300.74,254.62 301.13,253.93 301.51,255.28 301.90,255.92 302.30,254.51 302.70,252.77 303.10,252.62 303.50,249.65 303.90,250.33 304.30,247.18 304.70,247.19 305.10,243.41 305.48,245.75 305.87,245.44 306.25,247.64 306.63,248.15 307.02,248.68 307.40,249.07 307.80,246.37 308.20,246.94 308.60,244.35 309.00,242.76 309.40,242.77 309.80,239.46 310.20,239.26 310.59,238.71 310.97,240.17 311.36,237.57 311.74,238.43 312.13,237.67 312.51,238.82 312.90,238.06 313.30,237.11 313.70,236.30 314.10,236.09 314.50,235.87 314.90,233.14 315.30,235.32 315.70,232.65 316.09,235.97 316.47,233.56 316.86,234.96 317.24,235.14 317.63,236.21 318.01,238.81 318.40,238.53 318.81,241.01 319.22,244.14 319.63,242.57 320.04,243.44 320.45,243.06 320.86,246.21 321.27,246.75 321.68,247.37 322.09,247.51 322.50,248.11 322.91,248.54 323.32,250.16 323.73,247.23 324.14,247.68 324.56,246.20 324.97,244.06 325.38,245.32 325.79,244.01 326.20,243.53 326.58,245.41 326.97,245.05 327.35,247.44 327.73,248.50 328.12,249.94 328.50,252.49 328.95,249.85 329.40,250.12 329.85,250.40 330.30,249.74 330.70,250.33 331.10,251.11 331.50,252.97 331.90,255.39 332.30,254.12 332.70,254.96 333.10,256.91 333.50,258.62 333.90,257.41 334.30,258.30 334.70,256.24 335.10,257.65 335.50,256.90 335.90,257.53 336.30,256.70 336.70,257.87 337.10,258.06 337.50,260.19 337.90,260.33 338.30,263.54 338.70,263.49 339.10,266.27 339.50,265.99 339.95,265.16 340.40,263.12 340.85,262.15 341.30,260.43 341.70,260.19 342.10,259.37 342.50,260.48 342.90,259.09 343.30,260.11 343.70,256.75 344.10,258.27 344.50,256.26 344.91,256.78 345.32,257.60 345.73,258.14 346.14,258.52 346.56,260.82 346.97,259.16 347.38,264.43 347.79,265.01 348.20,268.83 348.61,262.19 349.02,260.47 349.43,263.34 349.84,257.77 350.25,257.51 350.66,256.82 351.07,256.67 351.48,256.28 351.89,255.07 352.30,253.90 352.71,252.34 353.12,252.26 353.53,252.72 353.94,253.99 354.36,253.00 354.77,253.42 355.18,253.49 355.59,254.15 356.00,254.16 356.41,254.05 356.82,256.67 357.23,256.86 357.64,252.26 358.06,251.59 358.47,252.01 358.88,250.64 359.29,249.93 359.70,250.86 360.09,250.66 360.47,252.87 360.86,253.08 361.24,252.74 361.63,253.77 362.01,253.74 362.40,254.86 362.85,253.98 363.30,255.71 363.75,249.64 364.20,248.58 364.60,251.03 365.00,252.67 365.40,252.71 365.80,255.93 366.20,255.28 366.60,257.03 367.00,260.18 367.41,257.85 367.82,260.39 368.23,260.34 368.64,260.70 369.06,261.22 369.47,260.84 369.88,260.71 370.29,262.26 370.70,261.50 371.09,261.21 371.47,264.96 371.86,260.54 372.24,260.76 372.63,262.25 373.01,262.28 373.40,260.80 373.81,260.43 374.22,260.26 374.63,259.71 375.04,260.03 375.46,259.92 375.87,256.67 376.28,257.32 376.69,256.75 377.10,255.00 377.52,256.55 377.94,253.63 378.35,253.99 378.77,254.92 379.19,254.88 379.61,253.49 380.03,253.74 380.45,252.74 380.86,251.26 381.28,250.61 381.70,250.08 382.10,251.03 382.50,248.94 382.90,248.26 383.30,246.75 383.70,246.83 384.10,248.36 384.50,244.06 384.90,244.69 385.30,242.16 385.70,242.24 386.10,242.42 386.50,243.94 386.90,242.47 387.30,242.58 387.70,242.03 388.10,242.38 388.50,245.06 388.90,242.65 389.30,241.62 389.74,243.86 390.18,243.05 390.62,244.47 391.06,244.03 391.50,245.09 391.93,246.16 392.36,247.58 392.79,247.51 393.22,246.85 393.65,248.88 394.08,247.65 394.51,248.67 394.94,249.15 395.37,250.83 395.80,250.55 396.19,249.79 396.57,248.66 396.96,247.50 397.34,249.04 397.73,247.81 398.11,248.95 398.50,246.41 398.89,245.66 399.29,247.96 399.68,248.29 400.07,249.68 400.46,250.54 400.86,250.46 401.25,252.45 401.64,251.46 402.04,248.89 402.43,248.16 402.82,248.73 403.21,245.86 403.61,244.07 404.00,243.47 404.39,242.01 404.77,241.02 405.16,242.00 405.54,241.03 405.93,240.92 406.31,239.99 406.70,240.57 407.09,241.23 407.47,240.77 407.86,239.89 408.24,239.23 408.63,239.95 409.01,239.61 409.40,237.90 409.82,236.68 410.24,238.20 410.67,238.22 411.09,237.50 411.51,238.12 411.93,238.77 412.36,239.32 412.78,238.26 413.20,238.90 413.59,238.64 413.97,238.29 414.36,238.67 414.74,237.51 415.13,237.32 415.51,238.57 415.90,238.57 416.29,237.32 416.67,237.68 417.06,236.74 417.44,237.61 417.83,237.81 418.21,239.26 418.60,240.31 418.99,240.35 419.37,239.36 419.76,238.85 420.14,239.14 420.53,237.18 420.91,236.15 421.30,234.35 421.73,234.88 422.16,236.20 422.59,234.98 423.02,233.72 423.45,234.04 423.88,233.00 424.31,232.90 424.74,233.38 425.17,235.56 425.60,232.81 426.02,232.74 426.44,232.95 426.87,231.20 427.29,234.38 427.71,232.66 428.13,235.21 428.56,230.21 428.98,228.99 429.40,229.27 429.80,229.09 430.20,228.05 430.60,229.19 431.00,229.35 431.43,226.57 431.85,224.93 432.27,224.11 432.70,219.93 433.10,220.57 433.50,220.28 433.90,219.42 434.30,219.46 434.70,220.76 435.10,220.08 435.50,221.07 435.90,221.30 436.34,220.78 436.78,219.20 437.22,219.86 437.66,218.57 438.10,219.82 438.53,219.12 438.96,216.84 439.39,215.41 439.82,212.97 440.25,211.43 440.67,210.99 441.08,212.81 441.50,213.10 441.92,214.18 442.33,215.15 442.75,213.68 443.17,215.13 443.58,216.06 444.00,216.11 444.42,215.49 444.84,215.01 445.27,214.96 445.69,212.92 446.11,213.28 446.53,212.51 446.96,212.20 447.38,211.53 447.80,211.83 448.24,213.34 448.68,214.54 449.12,212.78 449.56,214.83 450.00,213.23 450.41,212.54 450.81,212.08 451.22,211.03 451.62,208.91 452.03,208.06 452.44,206.55 452.84,205.68 453.25,205.74 453.68,205.11 454.11,205.80 454.54,206.24 454.97,206.83 455.40,207.32 455.81,207.65 456.22,208.07 456.64,209.14 457.05,209.39 457.46,207.06 457.88,207.09 458.29,207.66 458.70,207.46 459.12,206.85 459.54,208.10 459.96,208.38 460.38,209.36 460.80,209.36 461.22,210.35 461.64,209.77 462.06,212.77 462.48,213.19 462.90,212.76 463.32,214.59 463.73,215.13 464.15,215.36 464.57,215.92 464.99,216.52 465.41,217.36 465.83,218.69 466.25,216.75 466.64,216.84 467.04,217.02 467.43,216.24 467.82,215.18 468.21,215.21 468.61,214.97 469.00,213.66 469.39,213.09 469.77,212.09 470.16,212.32 470.54,210.67 470.93,210.38 471.31,208.91 471.70,207.65 472.13,209.17 472.56,208.69 472.99,208.25 473.42,208.50 473.85,209.28 474.28,208.18 474.71,208.22 475.14,209.17 475.57,209.87 476.00,208.11 476.44,208.78 476.88,209.60 477.32,210.92 477.76,211.83 478.20,210.29 478.60,212.32 479.00,212.02 479.40,214.48 479.80,215.03 480.20,216.91 480.60,217.31 481.00,217.63 481.40,219.88 481.83,221.13 482.27,219.56 482.70,218.47 483.09,218.09 483.47,218.40 483.86,219.35 484.24,218.44 484.63,220.13 485.01,218.08 485.40,217.82 485.81,216.61 486.22,216.64 486.64,215.65 487.05,214.09 487.46,217.04 487.88,213.22 488.29,212.32 488.70,213.91 489.09,212.76 489.47,213.84 489.86,213.38 490.24,215.48 490.63,217.35 491.01,215.72 491.40,215.15 491.80,215.52 492.20,217.35 492.60,218.13 493.00,220.49 493.40,221.62 493.80,221.88 494.20,221.94 494.60,222.44 494.99,220.67 495.37,220.18 495.76,219.10 496.14,217.61 496.53,217.63 496.91,216.19 497.30,215.64 497.70,214.30 498.10,212.74 498.50,213.26 498.90,211.38 499.30,209.85 499.70,209.42 500.10,209.37 500.50,208.08 500.90,207.96 501.30,206.05 501.70,208.55 502.13,207.05 502.56,206.57 502.99,204.26 503.42,205.53 503.85,206.09 504.28,204.24 504.71,203.45 505.14,203.64 505.57,202.12 506.00,203.20 506.41,202.12 506.81,202.41 507.22,203.25 507.62,206.07 508.03,203.44 508.44,202.28 508.84,204.07 509.25,203.66 509.68,203.48 510.11,205.59 510.54,203.46 510.97,203.32 511.40,204.97 511.81,202.65 512.23,202.75 512.64,200.93 513.05,197.88 513.46,197.14 513.88,197.27 514.29,195.50 514.70,196.01 515.13,193.93 515.56,194.62 515.99,195.77 516.42,195.68 516.85,196.09 517.28,195.12 517.71,195.14 518.14,193.54 518.57,193.17 519.00,193.56 519.44,192.77 519.88,191.57 520.32,192.37 520.76,191.77 521.20,191.44 521.62,192.14 522.04,194.20 522.46,197.15 522.88,197.91 523.30,201.44 523.71,200.57 524.12,198.32 524.54,197.54 524.95,197.26 525.36,196.57 525.77,195.69 526.19,194.07 526.60,194.05 527.03,194.30 527.46,193.86 527.89,194.24 528.32,194.55 528.75,194.49 529.18,192.83 529.61,191.68 530.04,189.44 530.47,188.15 530.90,186.80 531.31,184.92 531.73,184.68 532.14,184.76 532.55,184.88 532.96,183.96 533.38,185.89 533.79,186.66 534.20,186.57 534.63,186.49 535.06,183.68 535.49,185.25 535.92,182.72 536.35,182.63 536.78,181.15 537.21,182.43 537.64,180.71 538.07,179.96 538.50,179.33 538.92,180.45 539.34,180.06 539.77,181.12 540.19,181.55 540.61,183.78 541.03,184.30 541.46,185.22 541.88,183.86 542.30,187.81 542.72,185.18 543.14,183.13 543.57,181.88 543.99,180.82 544.41,181.52 544.83,180.91 545.26,179.58 545.68,179.68 546.10,176.86 546.50,177.56 546.90,178.13 547.30,180.42 547.70,177.67 548.10,177.13 548.50,178.11 548.90,177.88 549.30,177.86 549.71,177.02 550.12,177.95 550.54,180.10 550.95,179.75 551.36,179.28 551.77,180.28 552.19,181.00 552.60,180.16 553.03,180.37 553.46,178.03 553.89,177.36 554.32,178.28 554.75,174.40 555.15,174.72 555.54,175.65 555.94,175.32 556.33,176.11 556.73,175.82 557.12,175.94 557.52,178.68 557.91,175.99 558.31,175.86 558.70,176.42 559.10,176.28 559.53,176.95 559.96,176.81 560.39,176.26 560.82,177.19 561.25,178.31 561.68,178.23 562.11,179.14 562.54,180.22 562.97,179.12 563.40,179.97 563.81,179.21 564.23,181.35 564.64,181.62 565.05,183.73 565.46,185.66 565.88,186.31 566.29,188.10 566.70,189.45 567.12,188.97 567.53,187.63 567.95,188.39 568.36,187.10 568.78,187.18 569.19,187.91 569.61,186.45 570.02,186.28 570.44,186.94 570.85,187.86 571.27,184.31 571.68,183.97 572.10,183.74 572.50,183.75 572.90,181.16 573.30,179.93 573.70,179.49 574.10,179.15 574.50,177.69 574.90,176.38 575.30,175.76 575.73,175.36 576.17,173.21 576.60,172.46 577.03,172.16 577.47,172.86 577.90,172.24 578.31,171.33 578.73,170.85 579.14,169.98 579.56,170.52 579.97,171.38 580.39,168.72 580.80,169.07 581.22,169.19 581.64,171.27 582.06,173.85 582.49,171.86 582.91,172.24 583.33,173.79 583.75,174.62 584.17,172.22 584.59,173.78 585.01,170.46 585.44,169.16 585.86,168.47 586.28,168.20 586.70,165.48 587.11,165.80 587.51,164.33 587.92,164.05 588.32,162.37 588.73,161.52 589.13,159.56 589.53,160.03 589.94,156.97 590.35,157.38 590.75,157.91 591.17,157.25 591.59,158.88 592.01,158.68 592.44,157.63 592.86,158.58 593.28,157.93 593.70,158.17 594.11,158.66 594.53,156.82 594.94,158.51 595.36,157.86 595.77,158.81 596.19,158.26 596.60,159.11 596.99,156.93 597.38,155.81 597.77,153.71 598.16,154.50 598.54,151.78 598.93,153.38 599.32,151.07 599.71,149.74 600.10,147.73 600.48,149.27 600.87,149.22 601.25,149.98 601.63,150.05 602.02,151.46 602.40,152.43 602.79,152.62 603.18,154.11 603.58,154.41 603.97,157.22 604.36,158.04 604.75,159.44 605.19,160.10 605.62,162.19 606.06,165.00 606.50,166.50 606.88,167.41 607.27,166.17 607.65,165.22 608.03,163.31 608.42,162.99 608.80,161.15 609.25,166.37 609.70,172.43 610.15,178.65 610.60,182.49 611.02,180.88 611.45,178.44 611.88,176.96 612.30,175.46 612.72,172.55 613.14,169.94 613.56,167.87 613.99,166.37 614.41,164.44 614.83,162.87 615.25,159.59 615.64,159.44 616.03,157.78 616.42,157.58 616.82,158.89 617.21,156.91 617.60,157.44 617.99,159.00 618.38,158.08 618.77,157.77 619.16,158.67 619.54,159.80 619.93,161.15 620.32,160.99 620.71,161.40 621.10,160.86 621.49,163.49 621.88,164.87 622.27,165.37 622.66,167.17 623.04,167.32 623.43,168.79 623.82,170.89 624.21,170.17 624.60,172.01 625.00,171.74 625.40,167.66 625.80,165.89 626.20,162.56 626.60,160.49 627.00,158.89 627.40,159.61 627.80,159.21 628.20,159.97 628.60,156.60 629.00,156.91 629.40,156.93 629.80,157.21 630.20,155.49 630.60,155.60 631.00,156.67 631.40,155.74 631.80,155.48 632.20,154.47 632.61,155.73 633.03,155.36 633.44,157.04 633.86,157.18 634.27,156.74 634.69,158.74 635.10,158.04 635.51,157.54 635.92,157.03 636.33,156.51 636.74,155.25 637.15,153.80 637.56,154.31 637.97,152.92 638.38,150.63 638.79,151.04 639.20,148.93 639.61,150.21 640.02,149.48 640.43,150.60 640.84,149.73 641.25,150.77 641.66,149.42 642.07,148.83 642.48,148.76 642.89,150.63 643.30,150.88 643.70,150.55 644.10,150.98 644.50,152.79 644.90,152.45 645.30,153.40 645.70,155.10 646.10,153.55 646.50,152.87 646.90,154.01 647.30,157.02 647.73,152.02 648.16,149.83 648.59,148.23 649.01,146.92 649.44,144.23 649.87,142.88 650.30,142.30 650.68,141.76 651.07,142.96 651.45,145.30 651.83,146.68 652.22,147.68 652.60,147.68 653.01,147.77 653.42,147.66 653.83,150.04 654.24,147.05 654.65,147.56 655.06,146.41 655.47,146.38 655.88,144.66 656.29,144.61 656.70,145.35 657.12,144.22 657.55,141.62 657.97,140.97 658.39,140.03 658.81,140.72 659.24,139.07 659.66,138.69 660.08,138.87 660.50,137.18 660.93,136.35 661.35,134.98 661.74,135.13 662.13,132.69 662.52,132.99 662.91,132.80 663.29,132.75 663.68,131.85 664.07,132.40 664.46,130.69 664.85,131.10 665.24,132.30 665.63,134.33 666.03,137.10 666.42,138.16 666.81,141.29 667.20,142.78 667.62,140.09 668.05,138.62 668.48,135.98 668.90,134.66 669.32,135.09 669.74,135.12 670.16,137.30 670.59,138.90 671.01,140.49 671.43,140.46 671.85,143.12 672.21,140.14 672.58,138.59 672.94,137.32 673.30,134.93 673.72,137.45 674.15,137.14 674.58,139.33 675.00,140.71 675.42,143.27 675.85,143.43 676.28,146.05 676.70,145.85 677.11,145.22 677.53,142.43 677.94,142.49 678.35,139.96 678.76,138.95 679.17,135.67 679.59,135.23 680.00,134.40 680.41,133.53 680.83,135.37 681.24,135.39 681.65,135.99 682.06,137.68 682.47,138.13 682.89,139.69 683.30,140.78 683.72,139.56 684.15,140.34 684.58,139.64 685.00,138.45 685.42,137.97 685.85,137.61 686.28,136.19 686.70,135.81 687.11,137.18 687.52,134.03 687.93,133.14 688.34,130.78 688.75,133.85 689.16,130.44 689.57,130.59 689.98,129.37 690.39,132.26 690.80,128.55 691.22,130.57 691.63,131.72 692.05,132.43 692.47,132.37 692.88,133.27 693.30,134.52 693.72,134.46 694.15,136.74 694.58,139.41 695.00,139.94 695.42,142.20 695.85,142.96 696.28,144.82 696.70,146.68 697.11,148.19 697.53,149.95 697.94,152.32 698.35,154.30 698.76,155.66 699.17,158.55 699.59,159.36 700.00,163.96 700.42,161.25 700.83,161.48 701.25,162.43 701.67,163.02 702.08,158.70 702.50,158.67 702.91,158.95 703.33,156.73 703.74,157.38 704.15,156.21 704.56,155.78 704.97,152.53 705.39,151.54 705.80,152.94 706.22,154.19 706.63,157.65 707.05,158.36 707.47,159.57 707.88,162.97 708.30,165.89 708.72,169.56 709.13,174.01 709.55,179.01 709.97,183.83 710.38,189.89 710.80,194.05 711.22,190.90 711.63,184.71 712.05,183.41 712.47,174.32 712.88,171.21 713.30,168.37 713.72,170.01 714.15,171.01 714.58,174.55 715.00,173.68 715.42,175.78 715.85,181.31 716.28,178.20 716.70,180.55 717.11,176.12 717.53,173.15 717.94,171.87 718.35,169.32 718.76,171.22 719.17,162.17 719.59,162.63 720.00,157.07 720.41,159.21 720.83,160.86 721.24,157.30 721.65,155.32 722.06,155.62 722.47,155.29 722.89,154.03 723.30,153.32 723.72,150.38 724.15,151.18 724.58,149.29 725.00,145.16 725.42,145.15 725.85,143.30 726.28,141.37 726.70,138.19 727.11,138.25 727.53,139.47 727.94,139.92 728.35,139.82 728.76,140.55 729.17,138.32 729.59,137.75 730.00,137.99 730.41,138.61 730.83,137.37 731.24,137.50 731.65,136.91 732.06,135.86 732.47,139.32 732.89,135.69 733.30,139.05 733.72,135.93 734.15,136.71 734.58,134.68 735.00,134.41 735.42,133.20 735.85,132.51 736.28,132.98 736.70,132.60 737.12,132.42 737.53,132.88 737.95,134.98 738.37,132.76 738.78,133.02 739.20,131.63 739.62,132.03 740.03,131.57 740.45,132.08 740.87,131.72 741.28,133.13 741.70,133.27 742.11,133.32 742.53,131.61 742.94,129.65 743.35,128.10 743.76,126.08 744.17,125.64 744.59,123.87 745.00,122.88 745.42,121.96 745.83,123.36 746.25,122.56 746.67,122.12 747.08,121.70 747.50,122.53 747.92,120.87 748.33,120.68 748.75,120.45 749.17,123.78 749.58,120.60 750.00,120.31 750.42,120.76 750.83,120.99 751.25,119.94 751.67,120.64 752.08,120.16 752.50,119.48 752.92,118.69 753.33,118.49 753.75,118.92 754.17,119.33 754.58,117.65 755.00,117.81 755.41,117.97 755.83,117.94 756.24,118.08 756.65,118.24 757.06,119.05 757.47,118.94 757.89,119.39 758.30,120.25 758.72,118.83 759.13,118.56 759.55,116.47 759.97,119.04 760.38,115.14 760.80,115.35 761.22,113.98 761.63,113.54 762.05,111.31 762.47,110.86 762.88,108.85 763.30,108.15 763.72,110.78 764.15,110.60 764.58,112.66 765.00,113.54 765.42,113.07 765.83,112.65 766.25,112.52 766.67,111.05 767.08,111.06 767.50,112.09 767.92,111.05 768.35,109.41 768.78,111.46 769.20,110.56 769.61,112.13 770.02,113.93 770.43,114.45 770.84,114.48 771.25,116.04 771.67,114.53 772.09,114.30 772.51,112.71 772.94,111.09 773.36,109.66 773.78,108.80 774.20,108.10 774.61,106.71 775.03,106.59 775.44,106.55 775.85,105.09 776.26,105.51 776.67,105.95 777.09,102.11 777.50,101.88 777.91,101.05 778.33,102.79 778.74,101.94 779.16,101.35 779.57,101.69 779.99,102.28 780.40,100.79 780.81,100.40 781.23,101.02 781.64,101.12 782.06,97.84 782.47,98.36 782.89,96.30 783.30,96.14 783.72,99.36 784.14,97.85 784.56,96.62 784.99,97.55 785.41,96.55 785.83,95.26 786.25,96.62 786.66,95.64 787.08,98.99 787.49,101.35 787.90,101.79 788.32,100.72 788.74,99.86 789.17,103.25 789.59,99.07 790.01,99.39 790.43,97.47 790.86,96.87 791.28,95.84 791.70,94.53 792.11,94.94 792.53,91.00 792.94,90.29 793.36,87.79 793.77,85.55 794.19,83.48 794.60,80.40 795.02,82.39 795.44,81.36 795.86,81.65 796.28,82.94 796.70,82.43 797.11,86.64 797.52,89.22 797.93,91.68 798.34,93.03 798.75,95.44 799.17,93.33 799.58,91.11 800.00,88.10 800.42,89.18 800.85,92.68 801.28,94.84 801.70,101.38 802.12,100.66 802.53,102.63 802.95,102.62 803.37,104.38 803.78,105.71 804.20,105.54 804.60,103.32 805.00,100.59 805.40,99.10 805.80,95.94 806.22,97.72 806.63,95.06 807.05,93.59 807.47,93.62 807.88,92.25 808.30,90.56 808.72,89.41 809.13,89.59 809.55,90.65 809.97,89.71 810.38,87.31 810.80,86.79 811.22,87.49 811.64,87.15 812.06,89.16 812.48,91.12 812.90,92.68 813.32,93.08 813.74,94.29 814.16,95.00 814.58,94.76 815.00,97.78 815.42,96.03 815.83,92.84 816.25,92.25 816.67,92.01 817.08,89.78 817.50,87.34 817.92,88.25 818.33,87.31 818.75,88.62 819.17,87.91 819.58,89.15 820.00,88.55 820.42,90.18 820.85,90.75 821.28,91.29 821.70,93.21 822.11,91.87 822.52,89.78 822.93,89.22 823.34,89.02 823.75,87.22 824.16,86.18 824.57,86.45 824.98,85.73 825.39,85.52 825.80,84.73 826.22,84.97 826.64,86.02 827.06,87.97 827.49,89.71 827.91,90.52 828.33,91.23 828.75,93.22 829.17,91.65 829.59,89.19 830.01,87.79 830.44,85.23 830.86,85.08 831.28,85.18 831.70,81.18 832.10,82.78 832.50,83.24 832.90,84.40 833.30,84.72 833.72,87.60 834.15,91.50 834.58,95.61 835.00,99.64" fill="none" stroke="#ff0000" stroke-width="2.50" stroke-linejoin="round"/>
<polyline points="835.78,98.61 908.99,99.78 984.26,99.88 1059.53,99.88 1134.66,99.88" fill="none" stroke="#0000cc" stroke-width="2.2"/>
</g>
<g shape-rendering="crispEdges" fill="#000">
<rect x="71" y="70" width="1115" height="1"/>
<rect x="71" y="277" width="1115" height="1"/>
<rect x="71" y="70" width="1" height="208"/>
<rect x="1185" y="70" width="1" height="208"/>
<rect x="73" y="278" width="1" height="5"/>
<rect x="223" y="278" width="1" height="5"/>
<rect x="372" y="278" width="1" height="5"/>
<rect x="522" y="278" width="1" height="5"/>
<rect x="672" y="278" width="1" height="5"/>
<rect x="821" y="278" width="1" height="5"/>
<rect x="971" y="278" width="1" height="5"/>
<rect x="1120" y="278" width="1" height="5"/>
<rect x="66" y="270" width="5" height="1"/>
<rect x="66" y="211" width="5" height="1"/>
<rect x="66" y="153" width="5" height="1"/>
<rect x="66" y="94" width="5" height="1"/>
</g>
<g clip-path="url(#cb)">
<polygon points="122.00,387.00 370.00,344.75 625.00,347.00 880.00,347.50 1134.50,346.00 1134.50,376.00 880.00,375.50 625.00,374.00 370.00,360.00 122.00,400.00" fill="rgba(0,128,0,0.25)"/>
<polygon points="122.00,389.50 370.00,401.70 625.00,402.00 880.00,402.00 1134.50,402.00 1134.50,531.70 880.00,501.50 625.00,471.50 370.00,429.00 122.00,401.70" fill="rgba(255,0,0,0.25)"/>
<polygon points="122.00,386.00 370.00,360.00 625.00,374.00 880.00,375.50 1134.50,376.25 1134.50,402.00 880.00,402.00 625.00,402.00 370.00,401.70 122.00,398.30" fill="rgba(0,0,255,0.5)"/>
</g>
<g shape-rendering="crispEdges">
<rect x="73" y="336" width="1" height="206" fill="#a8a8a8"/>
<rect x="198" y="336" width="1" height="206" fill="#a8a8a8"/>
<rect x="324" y="336" width="1" height="206" fill="#a8a8a8"/>
<rect x="452" y="336" width="1" height="206" fill="#a8a8a8"/>
<rect x="579" y="336" width="1" height="206" fill="#a8a8a8"/>
<rect x="704" y="336" width="1" height="206" fill="#a8a8a8"/>
<rect x="830" y="336" width="1" height="206" fill="#a8a8a8"/>
<rect x="958" y="336" width="1" height="206" fill="#a8a8a8"/>
<rect x="1086" y="336" width="1" height="206" fill="#a8a8a8"/>
<rect x="72" y="521" width="1113" height="1" fill="#a8a8a8"/>
<rect x="72" y="486" width="1113" height="1" fill="#a8a8a8"/>
<rect x="72" y="452" width="1113" height="1" fill="#a8a8a8"/>
<rect x="72" y="418" width="1113" height="1" fill="#a8a8a8"/>
<rect x="72" y="384" width="1113" height="1" fill="#a8a8a8"/>
<rect x="72" y="350" width="1113" height="1" fill="#a8a8a8"/>
</g>
<g clip-path="url(#cb)">
<polyline points="122.00,398.30 370.00,401.70 625.00,402.00 880.00,402.00 1134.50,402.00" fill="none" stroke="#0000cc" stroke-width="2.2"/>
</g>
<g shape-rendering="crispEdges" fill="#000">
<rect x="71" y="335" width="1115" height="1"/>
<rect x="71" y="542" width="1115" height="1"/>
<rect x="71" y="335" width="1" height="208"/>
<rect x="1185" y="335" width="1" height="208"/>
<rect x="73" y="543" width="1" height="5"/>
<rect x="198" y="543" width="1" height="5"/>
<rect x="324" y="543" width="1" height="5"/>
<rect x="452" y="543" width="1" height="5"/>
<rect x="579" y="543" width="1" height="5"/>
<rect x="704" y="543" width="1" height="5"/>
<rect x="830" y="543" width="1" height="5"/>
<rect x="958" y="543" width="1" height="5"/>
<rect x="1086" y="543" width="1" height="5"/>
<rect x="66" y="521" width="5" height="1"/>
<rect x="66" y="486" width="5" height="1"/>
<rect x="66" y="452" width="5" height="1"/>
<rect x="66" y="418" width="5" height="1"/>
<rect x="66" y="384" width="5" height="1"/>
<rect x="66" y="350" width="5" height="1"/>
</g>
<text x="56.00 65.02 73.67 82.62" y="297.70" font-family='"Liberation Sans", sans-serif' font-size="14.72" fill="#000">2021</text>
<text x="206.05 215.07 223.73 232.56" y="297.70" font-family='"Liberation Sans", sans-serif' font-size="14.72" fill="#000">2022</text>
<text x="354.91 363.93 372.59 381.63" y="297.70" font-family='"Liberation Sans", sans-serif' font-size="14.72" fill="#000">2023</text>
<text x="504.75 513.77 522.42 531.44" y="297.70" font-family='"Liberation Sans", sans-serif' font-size="14.72" fill="#000">2024</text>
<text x="654.96 663.98 672.64 681.60" y="297.70" font-family='"Liberation Sans", sans-serif' font-size="14.72" fill="#000">2025</text>
<text x="803.79 812.81 821.47 830.49" y="297.70" font-family='"Liberation Sans", sans-serif' font-size="14.72" fill="#000">2026</text>
<text x="953.95 962.97 971.62 980.62" y="297.70" font-family='"Liberation Sans", sans-serif' font-size="14.72" fill="#000">2027</text>
<text x="1102.83 1111.85 1120.51 1129.53" y="297.70" font-family='"Liberation Sans", sans-serif' font-size="14.72" fill="#000">2028</text>
<text x="34.86 43.77 52.61" y="274.70" font-family='"Liberation Sans", sans-serif' font-size="14.72" fill="#000">100</text>
<text x="34.86 43.72 52.61" y="215.70" font-family='"Liberation Sans", sans-serif' font-size="14.72" fill="#000">150</text>
<text x="34.75 43.77 52.61" y="157.70" font-family='"Liberation Sans", sans-serif' font-size="14.72" fill="#000">200</text>
<text x="34.75 43.72 52.61" y="98.70" font-family='"Liberation Sans", sans-serif' font-size="14.72" fill="#000">250</text>
<text x="44.66 53.68 62.33 71.35 79.92 85.20 93.96" y="561.60" font-family='"Liberation Sans", sans-serif' font-size="14.72" fill="#000">2026-01</text>
<text x="169.41 178.42 187.08 196.10 204.67 209.95 218.78" y="561.60" font-family='"Liberation Sans", sans-serif' font-size="14.72" fill="#000">2026-04</text>
<text x="295.61 304.63 313.28 322.30 330.87 336.15 344.96" y="561.60" font-family='"Liberation Sans", sans-serif' font-size="14.72" fill="#000">2026-07</text>
<text x="423.48 432.50 441.15 450.17 458.74 463.94 472.85" y="561.60" font-family='"Liberation Sans", sans-serif' font-size="14.72" fill="#000">2026-10</text>
<text x="550.66 559.68 568.33 577.32 585.92 591.20 599.96" y="561.60" font-family='"Liberation Sans", sans-serif' font-size="14.72" fill="#000">2027-01</text>
<text x="675.41 684.42 693.08 702.07 710.67 715.95 724.78" y="561.60" font-family='"Liberation Sans", sans-serif' font-size="14.72" fill="#000">2027-04</text>
<text x="801.61 810.63 819.28 828.27 836.87 842.15 850.96" y="561.60" font-family='"Liberation Sans", sans-serif' font-size="14.72" fill="#000">2027-07</text>
<text x="929.48 938.50 947.15 956.14 964.74 969.94 978.85" y="561.60" font-family='"Liberation Sans", sans-serif' font-size="14.72" fill="#000">2027-10</text>
<text x="1057.66 1066.68 1075.33 1084.35 1092.92 1098.20 1106.96" y="561.60" font-family='"Liberation Sans", sans-serif' font-size="14.72" fill="#000">2028-01</text>
<text x="34.75 43.70 52.61" y="525.70" font-family='"Liberation Sans", sans-serif' font-size="14.72" fill="#000">210</text>
<text x="34.75 43.59 52.61" y="490.70" font-family='"Liberation Sans", sans-serif' font-size="14.72" fill="#000">220</text>
<text x="34.75 43.79 52.61" y="456.70" font-family='"Liberation Sans", sans-serif' font-size="14.72" fill="#000">230</text>
<text x="34.75 43.77 52.61" y="422.70" font-family='"Liberation Sans", sans-serif' font-size="14.72" fill="#000">240</text>
<text x="34.75 43.72 52.61" y="388.70" font-family='"Liberation Sans", sans-serif' font-size="14.72" fill="#000">250</text>
<text x="34.75 43.77 52.61" y="354.70" font-family='"Liberation Sans", sans-serif' font-size="14.72" fill="#000">260</text>
<text x="611.44 621.72 631.24 636.25" y="316.70" font-family='"Liberation Sans", sans-serif' font-size="14.72" fill="#000">Date</text>
<text x="611.44 621.72 631.24 636.25" y="581.65" font-family='"Liberation Sans", sans-serif' font-size="14.72" fill="#000">Date</text>
<g transform="translate(25.75,176.4) rotate(-90)"><text x="-17.74 -8.45 -3.11 0.42 8.29" y="0.00" font-family='"Liberation Sans", sans-serif' font-size="14.72" fill="#000">Price</text></g>
<g transform="translate(25.75,440.1) rotate(-90)"><text x="-17.74 -8.45 -3.11 0.42 8.29" y="0.00" font-family='"Liberation Sans", sans-serif' font-size="14.72" fill="#000">Price</text></g>
<rect x="78.6" y="77.5" width="135.6" height="129" rx="3" ry="3" fill="rgba(255,255,255,0.8)" stroke="#cccccc" stroke-width="1.1"/>
<line x1="82" y1="89.0" x2="112" y2="89.0" stroke="#008000" stroke-width="2.1"/>
<text x="122.04 132.88 136.67 145.57" y="93.80" font-family='"Liberation Sans", sans-serif' font-size="14.72" fill="#000">High</text>
<line x1="82" y1="110.0" x2="112" y2="110.0" stroke="#dd0000" stroke-width="2.1"/>
<text x="122.20 129.79 138.49" y="114.80" font-family='"Liberation Sans", sans-serif' font-size="14.72" fill="#000">Low</text>
<line x1="82" y1="131.0" x2="112" y2="131.0" stroke="#0000cc" stroke-width="2.1"/>
<text x="122.18 132.71 136.44 144.81 152.22" y="135.80" font-family='"Liberation Sans", sans-serif' font-size="14.72" fill="#000">Close</text>
<rect x="82.8" y="147.2" width="28.1" height="9.7" fill="rgba(0,128,0,0.25)"/>
<text x="122.04 132.88 136.67 145.57 153.76 158.20 167.46 176.67 185.37 194.16" y="156.80" font-family='"Liberation Sans", sans-serif' font-size="14.72" fill="#000">High Range</text>
<rect x="82.8" y="168.2" width="28.1" height="9.7" fill="rgba(255,0,0,0.25)"/>
<text x="122.20 129.79 138.49 149.11 153.63 162.88 172.10 180.79 189.59" y="177.80" font-family='"Liberation Sans", sans-serif' font-size="14.72" fill="#000">Low Range</text>
<rect x="82.8" y="189.2" width="28.1" height="9.7" fill="rgba(0,0,255,0.5)"/>
<text x="122.18 132.71 136.44 144.81 152.22 160.40 164.70 173.95 183.17 191.86 200.65" y="198.80" font-family='"Liberation Sans", sans-serif' font-size="14.72" fill="#000">Close Range</text>
<rect x="78.6" y="342.5" width="135.6" height="129" rx="3" ry="3" fill="rgba(255,255,255,0.8)" stroke="#cccccc" stroke-width="1.1"/>
<line x1="82" y1="354.0" x2="112" y2="354.0" stroke="#008000" stroke-width="2.1"/>
<text x="122.04 132.88 136.67 145.57" y="358.80" font-family='"Liberation Sans", sans-serif' font-size="14.72" fill="#000">High</text>
<line x1="82" y1="375.0" x2="112" y2="375.0" stroke="#dd0000" stroke-width="2.1"/>
<text x="122.20 129.79 138.49" y="379.80" font-family='"Liberation Sans", sans-serif' font-size="14.72" fill="#000">Low</text>
<line x1="82" y1="396.0" x2="112" y2="396.0" stroke="#0000cc" stroke-width="2.1"/>
<text x="122.18 132.71 136.44 144.81 152.22" y="400.80" font-family='"Liberation Sans", sans-serif' font-size="14.72" fill="#000">Close</text>
<rect x="82.8" y="412.1" width="28.1" height="9.7" fill="rgba(0,128,0,0.25)"/>
<text x="122.04 132.88 136.67 145.57 153.76 158.20 167.46 176.67 185.37 194.16" y="421.80" font-family='"Liberation Sans", sans-serif' font-size="14.72" fill="#000">High Range</text>
<rect x="82.8" y="433.1" width="28.1" height="9.7" fill="rgba(255,0,0,0.25)"/>
<text x="122.20 129.79 138.49 149.11 153.63 162.88 172.10 180.79 189.59" y="442.80" font-family='"Liberation Sans", sans-serif' font-size="14.72" fill="#000">Low Range</text>
<rect x="82.8" y="454.1" width="28.1" height="9.7" fill="rgba(0,0,255,0.5)"/>
<text x="122.18 132.71 136.44 144.81 152.22 160.40 164.70 173.95 183.17 191.86 200.65" y="463.80" font-family='"Liberation Sans", sans-serif' font-size="14.72" fill="#000">Close Range</text>
<text x="217.14 245.01 259.84 285.55 312.21 322.80 347.71 362.29 375.69 403.56 419.59 430.18 453.79 479.27 491.97 515.44 542.47" y="162.70" font-family='"Liberation Sans", sans-serif' font-size="44.15" fill="rgba(0,0,0,0.06)">Predict-Price.com</text>
<text x="617.14 645.01 659.84 685.55 712.21 722.80 747.71 762.29 775.69 803.56 819.59 830.18 853.79 879.27 891.97 915.44 942.47" y="162.70" font-family='"Liberation Sans", sans-serif' font-size="44.15" fill="rgba(0,0,0,0.06)">Predict-Price.com</text>
<text x="217.14 245.01 259.84 285.55 312.21 322.80 347.71 362.29 375.69 403.56 419.59 430.18 453.79 479.27 491.97 515.44 542.47" y="312.70" font-family='"Liberation Sans", sans-serif' font-size="44.15" fill="rgba(0,0,0,0.06)">Predict-Price.com</text>
<text x="617.14 645.01 659.84 685.55 712.21 722.80 747.71 762.29 775.69 803.56 819.59 830.18 853.79 879.27 891.97 915.44 942.47" y="312.70" font-family='"Liberation Sans", sans-serif' font-size="44.15" fill="rgba(0,0,0,0.06)">Predict-Price.com</text>
<text x="217.14 245.01 259.84 285.55 312.21 322.80 347.71 362.29 375.69 403.56 419.59 430.18 453.79 479.27 491.97 515.44 542.47" y="462.70" font-family='"Liberation Sans", sans-serif' font-size="44.15" fill="rgba(0,0,0,0.06)">Predict-Price.com</text>
<text x="617.14 645.01 659.84 685.55 712.21 722.80 747.71 762.29 775.69 803.56 819.59 830.18 853.79 879.27 891.97 915.44 942.47" y="462.70" font-family='"Liberation Sans", sans-serif' font-size="44.15" fill="rgba(0,0,0,0.06)">Predict-Price.com</text>
</svg>
</body></html>
